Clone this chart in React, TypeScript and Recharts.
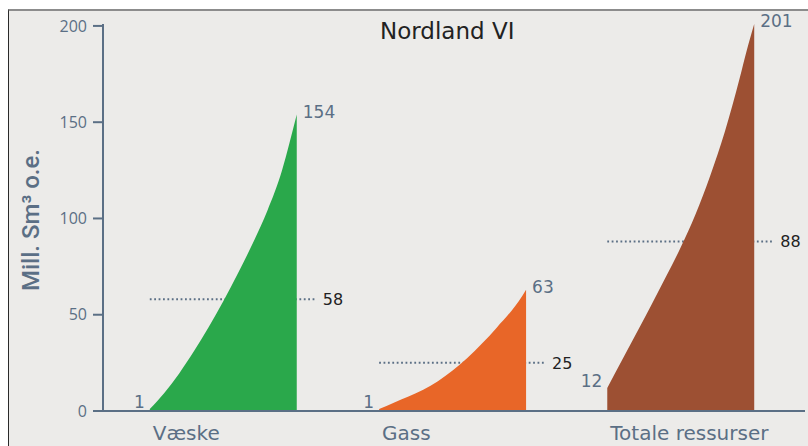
import React from 'react';
import { ComposedChart, Area, XAxis, YAxis, ReferenceLine, ReferenceDot } from 'recharts';

const categories = ['Væske', 'Gass', 'Totale ressurser'];
const probability = [0, 0.1, 0.2, 0.3, 0.4, 0.5, 0.6, 0.7, 0.8, 0.9, 0.95, 1];
const vaeskeValues = [1, 9.5, 19.5, 31, 43.5, 57, 71.5, 87, 104, 125, 139, 154];
const gassValues = [1, 4.3, 7.5, 11, 15.5, 21, 27.5, 35, 43.3, 52, 57, 63];
const totaleValues = [12, 26.4, 40.6, 55, 69.8, 85, 102, 122, 145, 172.5, 187.5, 201];
const meanValues = [58, 25, 88];
const yTicks = [0, 50, 100, 150, 200];

const seriesValues = [vaeskeValues, gassValues, totaleValues];
const colors = ['#2aa84b', '#e86628', '#9d5033'];

// layout along the hidden x scale (one unit per category)
const OFFSETS = [0.2, 0.18, 0.155];
const SPAN = 0.628;
const TAIL = 0.077;

const AXIS = '#5b6f85';
const LABEL_FONT = '"DejaVu Sans", sans-serif';

const CategoryTick = (props: any) => {
  const { x, y, index } = props;
  return (
    <text x={x + 3} y={y + 27} textAnchor="start" fill={AXIS} fontSize={20} fontFamily={LABEL_FONT}>
      {categories[index]}
    </text>
  );
};

export default function App() {
  const starts = categories.map((_, i) => i + OFFSETS[i]);
  const series = categories.map((name, i) => ({
    name,
    color: colors[i],
    start: starts[i],
    end: starts[i] + SPAN,
    values: seriesValues[i],
    data: probability.map((p, j) => ({ x: starts[i] + p * SPAN, v: seriesValues[i][j] })),
  }));

  return (
    <div style={{ position: 'absolute', left: 0, top: 0, width: 808, height: 446, background: '#fff', overflow: 'hidden' }}>
      <div
        style={{
          position: 'absolute', left: 8, top: 9, right: 0, bottom: 0,
          background: '#ecebe9', borderTop: '2px solid #8c8c8c', borderLeft: '1px solid #2a2a2a',
        }}
      />
      <div
        style={{
          position: 'absolute', left: 380, top: 19.5, fontFamily: LABEL_FONT, fontSize: 23,
          lineHeight: '23px', color: '#222', whiteSpace: 'nowrap',
        }}
      >
        Nordland VI
      </div>
      <div
        style={{
          position: 'absolute', left: 31, top: 220, transform: 'translate(-50%, -50%) rotate(-90deg)',
          fontFamily: 'Roboto, sans-serif', fontSize: 24, fontWeight: 500, lineHeight: 1, color: AXIS, whiteSpace: 'nowrap',
        }}
      >
        Mill. Sm³ o.e.
      </div>
      <div style={{ position: 'absolute', left: 0, top: 0 }}>
        <ComposedChart width={808} height={446} margin={{ top: 24, right: 3, bottom: 0, left: 0 }}>
          <XAxis
            type="number"
            dataKey="x"
            domain={[0, 3]}
            ticks={starts}
            interval={0}
            height={35}
            tickSize={0}
            tickLine={false}
            axisLine={{ stroke: AXIS, strokeWidth: 2 }}
            tick={<CategoryTick />}
            allowDataOverflow
          />
          <YAxis
            type="number"
            domain={[0, 200]}
            ticks={yTicks}
            width={103}
            tickSize={10}
            tickMargin={6}
            axisLine={{ stroke: AXIS, strokeWidth: 2 }}
            tickLine={{ stroke: AXIS, strokeWidth: 2 }}
            tick={{ fill: AXIS, fontSize: 16, fontFamily: '"Open Sans", sans-serif' }}
          />
          {series.map((s, i) => (
            <ReferenceLine
              key={`mean-${s.name}`}
              zIndex={50}
              segment={[{ x: s.start, y: meanValues[i] }, { x: s.end + TAIL, y: meanValues[i] }]}
              stroke={AXIS}
              strokeWidth={2}
              strokeDasharray="1.8 2.6"
              label={{ value: meanValues[i], position: 'right', offset: 8, fill: '#222', fontSize: 16, fontFamily: LABEL_FONT }}
            />
          ))}
          {series.map((s) => (
            <Area
              key={s.name}
              data={s.data}
              dataKey="v"
              type="monotone"
              fill={s.color}
              fillOpacity={1}
              stroke="none"
              baseValue={0}
              isAnimationActive={false}
            />
          ))}
          {series.map((s) => (
            <ReferenceDot
              key={`min-${s.name}`}
              x={s.start}
              y={s.values[0]}
              r={0}
              fill="none"
              stroke="none"
              label={{ value: s.values[0], position: 'left', offset: 5, dy: -7, fill: AXIS, fontSize: 17, fontFamily: LABEL_FONT }}
            />
          ))}
          {series.map((s) => (
            <ReferenceDot
              key={`max-${s.name}`}
              x={s.end}
              y={s.values[s.values.length - 1]}
              r={0}
              fill="none"
              stroke="none"
              label={{ value: s.values[s.values.length - 1], position: 'right', offset: 6, dy: -3, fill: AXIS, fontSize: 17, fontFamily: LABEL_FONT }}
            />
          ))}
        </ComposedChart>
      </div>
    </div>
  );
}
